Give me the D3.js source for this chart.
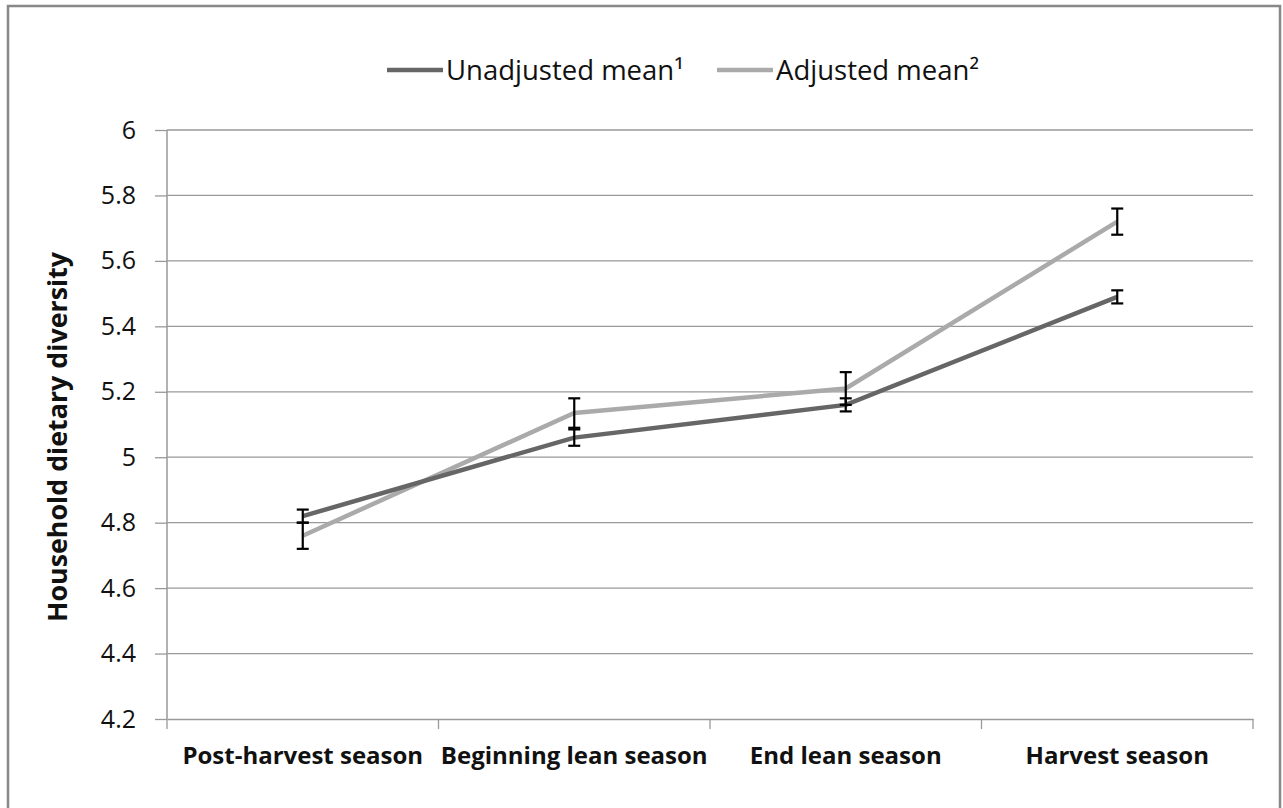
<!DOCTYPE html>
<html>
<head>
<meta charset="utf-8">
<script src="https://cdn.jsdelivr.net/npm/d3@7"></script>
<style>
  body { margin: 0; background: #fff; }
  svg { display: block; font-family: "Open Sans", "Noto Sans", sans-serif; }
</style>
</head>
<body>
<script>
const seasons = ["Post-harvest season", "Beginning lean season", "End lean season", "Harvest season"];
const unadjusted = [4.82, 5.06, 5.16, 5.49];
const unadjustedErr = [0.02, 0.025, 0.02, 0.02];
const adjusted = [4.76, 5.135, 5.21, 5.72];
const adjustedErr = [0.04, 0.045, 0.05, 0.04];
const yTicks = [4.2, 4.4, 4.6, 4.8, 5, 5.2, 5.4, 5.6, 5.8, 6];

const width = 1283, height = 808;
const margin = {top: 130, right: 30, bottom: 89, left: 167};
const font = "'Open Sans', 'Noto Sans', sans-serif";

const svg = d3.select("body").append("svg")
    .attr("width", width)
    .attr("height", height);

// outer frame
svg.append("rect")
    .attr("x", 8).attr("y", 6)
    .attr("width", 1272).attr("height", 810)
    .attr("fill", "none")
    .attr("stroke", "#888")
    .attr("stroke-width", 2.5);

const x = d3.scaleBand()
    .domain(seasons)
    .range([margin.left, width - margin.right]);

const y = d3.scaleLinear()
    .domain([4.2, 6])
    .range([height - margin.bottom, margin.top]);

// gridlines
svg.append("g")
  .selectAll("line")
  .data(yTicks.slice(1))
  .join("line")
    .attr("x1", margin.left)
    .attr("x2", width - margin.right)
    .attr("y1", d => y(d))
    .attr("y2", d => y(d))
    .attr("stroke", "#999")
    .attr("stroke-width", 1.3);

// y axis
const yAxis = svg.append("g")
    .attr("transform", `translate(${margin.left},0)`)
    .call(d3.axisLeft(y).tickValues(yTicks).tickFormat(d3.format("~g")).tickSize(12).tickPadding(19));
yAxis.attr("font-family", font);
yAxis.select(".domain").attr("stroke", "#999").attr("stroke-width", 1.5).attr("d", `M0,${y(6)}V${y(4.2)}`);
yAxis.selectAll(".tick line").attr("stroke", "#999").attr("stroke-width", 1.3);
yAxis.selectAll(".tick text")
    .attr("font-size", 25)
    .attr("fill", "#111");

// x axis
const xAxis = svg.append("g")
    .attr("transform", `translate(0,${y(4.2)})`)
    .call(d3.axisBottom(x).tickSize(0).tickPadding(28));
xAxis.attr("font-family", font);
xAxis.select(".domain").attr("stroke", "#999").attr("stroke-width", 1.5);
xAxis.selectAll(".tick text")
    .attr("font-size", 24)
    .attr("font-weight", "bold")
    .attr("fill", "#111");
// category boundary ticks
svg.append("g")
  .selectAll("line")
  .data(d3.range(seasons.length + 1))
  .join("line")
    .attr("x1", i => margin.left + i * x.step())
    .attr("x2", i => margin.left + i * x.step())
    .attr("y1", y(4.2))
    .attr("y2", y(4.2) + 10)
    .attr("stroke", "#999")
    .attr("stroke-width", 1.3);

// y axis title
svg.append("text")
    .attr("transform", `translate(67,437) rotate(-90)`)
    .attr("text-anchor", "middle")
    .attr("font-size", 26.8)
    .attr("font-weight", "bold")
    .attr("fill", "#111")
    .text("Household dietary diversity");

const cx = d => x(d) + x.bandwidth() / 2;
const line = d3.line().x(d => cx(d[0])).y(d => y(d[1]));

const series = [
  {name: "Unadjusted mean\u00b9", values: unadjusted, err: unadjustedErr, color: "#666666"},
  {name: "Adjusted mean\u00b2", values: adjusted, err: adjustedErr, color: "#aaaaaa"}
];

// lines
series.slice().reverse().forEach(s => {
  svg.append("path")
      .datum(seasons.map((c, i) => [c, s.values[i]]))
      .attr("fill", "none")
      .attr("stroke", s.color)
      .attr("stroke-width", 4.5)
      .attr("d", line);
});

// error bars
series.forEach(s => {
  const g = svg.append("g").attr("stroke", "#000").attr("stroke-width", 2.2);
  seasons.forEach((c, i) => {
    const lo = y(s.values[i] - s.err[i]), hi = y(s.values[i] + s.err[i]), px = cx(c);
    g.append("line").attr("x1", px).attr("x2", px).attr("y1", lo).attr("y2", hi);
    g.append("line").attr("x1", px - 6).attr("x2", px + 6).attr("y1", lo).attr("y2", lo);
    g.append("line").attr("x1", px - 6).attr("x2", px + 6).attr("y1", hi).attr("y2", hi);
  });
});

// legend
const legendPos = [387, 717];
series.forEach((s, i) => {
  const g = svg.append("g").attr("transform", `translate(${legendPos[i]},70)`);
  g.append("line").attr("x1", 0).attr("x2", 56)
      .attr("stroke", s.color).attr("stroke-width", 4.5);
  g.append("text")
      .attr("x", 59).attr("y", 0).attr("dy", "0.35em")
      .attr("font-size", 27.5)
      .attr("fill", "#111")
      .text(s.name);
});
</script>
</body>
</html>
